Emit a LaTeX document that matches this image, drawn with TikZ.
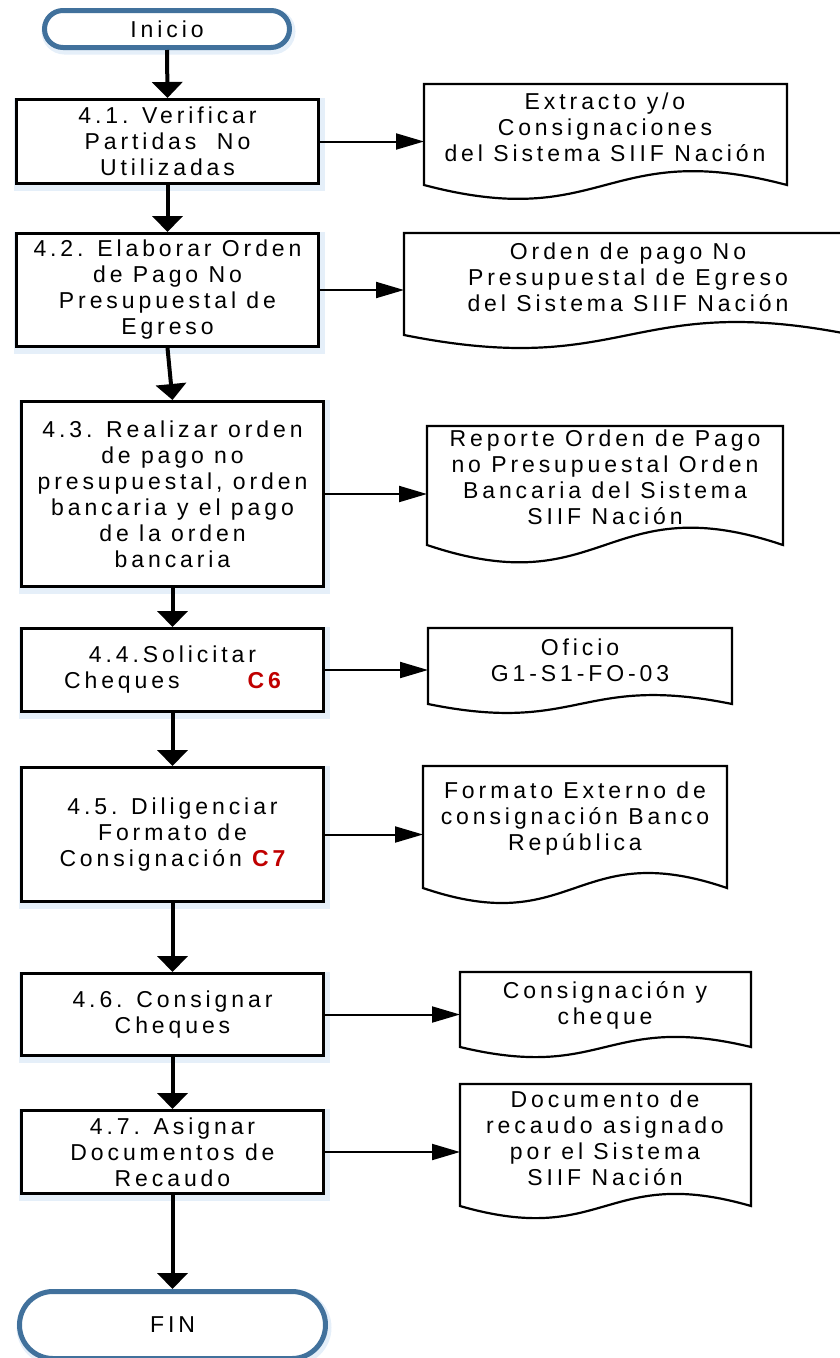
\documentclass[tikz,border=0pt]{standalone}
\usepackage{fontspec}
\setmainfont{Liberation Sans}[LetterSpace=17]
\usetikzlibrary{arrows.meta,calc,shapes.misc}
\definecolor{termblue}{RGB}{65,113,156}
\definecolor{codered}{RGB}{192,0,0}
\definecolor{glowblue}{RGB}{150,190,230}

% bottom edge of a document symbol: wavy line between the lower corners
\newcommand\docoutline[2]{%
  \draw[docline] (#1.north west) -- (#1.north east) -- (#1.south east)
    .. controls ($(#1.south)+(0,-#2)$) and ($(#1.south)+(0,#2)$) .. (#1.south west) -- cycle;}

\begin{document}
\begin{tikzpicture}[x=1pt,y=-1pt,
  font=\fontsize{23}{26}\selectfont,
  glow/.style={preaction={draw=glowblue, draw opacity=0.25, line width=9pt,
      transform canvas={xshift=1.5pt,yshift=-2.5pt}}},
  procbox/.style={rectangle, draw=black, line width=3pt, fill=white, align=center,
      inner sep=0pt, minimum width=302pt, glow},
  terminal/.style={rounded rectangle, draw=termblue, line width=5pt, fill=white,
      inner sep=0pt, glow},
  docbox/.style={rectangle, draw=none, inner sep=0pt, outer sep=0pt},
  docline/.style={draw=black, line width=2.2pt, fill=white, line join=miter},
  doctext/.style={align=center, inner sep=0pt},
  vflow/.style={draw=black, line width=4pt, -{Triangle[length=16pt,width=30pt]}},
  hflow/.style={draw=black, line width=2pt, -{Triangle[length=28pt,width=16pt]}}]

\useasboundingbox (0,0) rectangle (840,1358);
\clip (0,0) rectangle (840,1358);

% process column
\node[terminal, minimum width=245pt, minimum height=37pt] (t0) at (167,29) {Inicio};
\node[procbox, minimum height=84pt] (b1) at (167.5,141.5) {4.1. Verificar\\Partidas\ \ No\\Utilizadas};
\node[procbox, minimum height=113pt] (b2) at (167.5,290) {4.2. Elaborar Orden\\de Pago No\\Presupuestal de\\Egreso};
\node[procbox, minimum height=185pt] (b3) at (172.5,494) {4.3. Realizar orden\\de pago no\\presupuestal, orden\\bancaria y el pago\\de la orden\\bancaria};
\node[procbox, minimum height=83pt] (b4) at (172.5,670) {4.4.Solicitar\\Cheques\hspace{68pt}{\bfseries\color{codered}C6}};
\node[procbox, minimum height=134pt] (b5) at (172.5,834.5) {4.5. Diligenciar\\Formato de\\Consignación {\bfseries\color{codered}C7}};
\node[procbox, minimum height=82pt] (b6) at (172.5,1014.5) {4.6. Consignar\\Cheques};
\node[procbox, minimum height=83pt] (b7) at (172.5,1152) {4.7. Asignar\\Documentos de\\Recaudo};
\node[terminal, minimum width=306pt, minimum height=67pt] (t1) at (172.5,1325) {FIN};

% document symbols
\node[docbox, minimum width=363pt, minimum height=101pt] (o1) at (605.5,134.5) {};
\node[docbox, minimum width=449pt, minimum height=102pt] (o2) at (628.5,284) {};
\node[docbox, minimum width=356pt, minimum height=119pt] (o3) at (605,485.5) {};
\node[docbox, minimum width=304pt, minimum height=76pt] (o4) at (580,666) {};
\node[docbox, minimum width=304pt, minimum height=122pt] (o5) at (575,827) {};
\node[docbox, minimum width=291pt, minimum height=75pt] (o6) at (605.5,1009.5) {};
\node[docbox, minimum width=291pt, minimum height=122pt] (o7) at (605.5,1145) {};
\docoutline{o1}{48}
\docoutline{o2}{45}
\docoutline{o3}{60}
\docoutline{o4}{31}
\docoutline{o5}{52}
\docoutline{o6}{35}
\docoutline{o7}{42}

\node[doctext] (o1t) at (605,127) {Extracto y/o\\Consignaciones\\del Sistema SIIF Nación};
\node[doctext] (o2t) at (628,277) {Orden de pago No\\Presupuestal de Egreso\\del Sistema SIIF Nación};
\node[doctext] (o3t) at (605,477) {Reporte Orden de Pago\\no Presupuestal Orden\\Bancaria del Sistema\\SIIF Nación};
\node[doctext] (o4t) at (580,660) {Oficio\\G1-S1-FO-03};
\node[doctext] (o5t) at (575,819) {Formato Externo de\\consignación Banco\\República};
\node[doctext] (o6t) at (605,1005) {Consignación y\\cheque};
\node[doctext] (o7t) at (605,1138) {Documento de\\recaudo asignado\\por el Sistema\\SIIF Nación};

% main flow
\draw[vflow] (t0.south) -- (b1.north);
\draw[vflow] (b1.south) -- (b2.north);
\draw[vflow] (b2.south) -- (b3.north);
\draw[vflow] (b3.south) -- (b4.north);
\draw[vflow] (b4.south) -- (b5.north);
\draw[vflow] (b5.south) -- (b6.north);
\draw[vflow] (b6.south) -- (b7.north);
\draw[vflow] (b7.south) -- (t1.north);

% outputs of each step
\draw[hflow] (b1.east) -- (b1.east -| o1.west);
\draw[hflow] (b2.east) -- (b2.east -| o2.west);
\draw[hflow] (b3.east) -- (b3.east -| o3.west);
\draw[hflow] (b4.east) -- (b4.east -| o4.west);
\draw[hflow] (b5.east) -- (b5.east -| o5.west);
\draw[hflow] (b6.east) -- (b6.east -| o6.west);
\draw[hflow] (b7.east) -- (b7.east -| o7.west);
\end{tikzpicture}
\end{document}
